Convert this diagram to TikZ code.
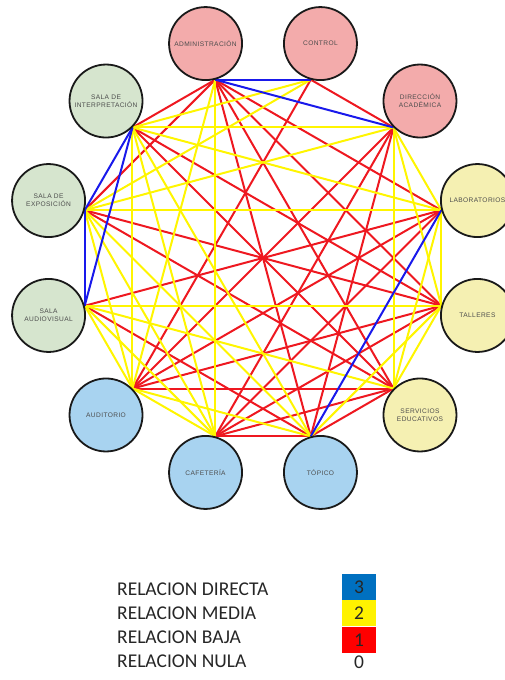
\documentclass[tikz,border=0pt]{standalone}
\usepackage{fontspec}
\setmainfont{Liberation Sans}
\newfontfamily\roomfont[LetterSpace=6]{Liberation Sans}
\newfontfamily\legendfont{Carlito}
\usetikzlibrary{backgrounds}
\definecolor{roompink}{RGB}{243,171,171}
\definecolor{roomgreen}{RGB}{214,229,206}
\definecolor{roomyellow}{RGB}{245,240,178}
\definecolor{roomblue}{RGB}{168,211,240}
\definecolor{relblue}{RGB}{25,25,235}
\definecolor{relyellow}{RGB}{255,245,0}
\definecolor{relred}{RGB}{238,24,32}
\definecolor{keyblue}{RGB}{0,112,192}

\begin{document}
\begin{tikzpicture}[x=1pt,y=1pt,
    room/.style={circle, draw=black!90, line width=1.8pt, minimum size=73pt,
                 inner sep=0pt, align=center, text=black!70,
                 font=\roomfont\fontsize{6.6}{8}\selectfont},
    directa/.style={draw=relblue, line width=2pt},
    media/.style={draw=relyellow, line width=2pt},
    baja/.style={draw=relred, line width=2pt},
    keytext/.style={anchor=west, inner sep=0pt, text=black!85,
                    font=\legendfont\fontsize{19.5}{22}\selectfont},
    keybox/.style={minimum width=34pt, minimum height=26.5pt, inner sep=0pt,
                   text=black!85, font=\legendfont\fontsize{19.5}{22}\selectfont}
  ]
  \useasboundingbox (0,0) rectangle (505,-680);
  \begin{scope}[shift={(263,-258)}]
    \node[room, fill=roompink]   (adm)  at (105:222)  {ADMINISTRACIÓN};
    \node[room, fill=roompink]   (ctl)  at (75:222)   {CONTROL};
    \node[room, fill=roompink]   (dir)  at (45:222)   {DIRECCIÓN\\ACADÉMICA};
    \node[room, fill=roomyellow] (lab)  at (15:222)   {LABORATORIOS};
    \node[room, fill=roomyellow] (tal)  at (-15:222)  {TALLERES};
    \node[room, fill=roomyellow] (ser)  at (-45:222)  {SERVICIOS\\EDUCATIVOS};
    \node[room, fill=roomblue]   (tpc)  at (-75:222)  {TÓPICO};
    \node[room, fill=roomblue]   (caf)  at (-105:222) {CAFETERÍA};
    \node[room, fill=roomblue]   (aud)  at (-135:222) {AUDITORIO};
    \node[room, fill=roomgreen]  (sav)  at (-165:222) {SALA\\AUDIOVISUAL};
    \node[room, fill=roomgreen]  (sex)  at (165:222)  {SALA DE\\EXPOSICIÓN};
    \node[room, fill=roomgreen]  (sint) at (135:222)  {SALA DE\\INTERPRETACIÓN};
  \end{scope}

  \begin{scope}[on background layer]
    % relacion baja
    \foreach \a/\b in {adm.285/lab.195, adm.285/tal.165, adm.285/ser.135, adm.285/tpc.105,
        adm.285/sex.345, adm.285/sint.315, ctl.255/dir.225, ctl.255/aud.45,
        dir.225/tpc.105, dir.225/caf.75, dir.225/aud.45, lab.195/caf.75,
        lab.195/aud.45, lab.195/sav.15, tal.165/caf.75, tal.165/aud.45, tal.165/sex.345,
        tal.165/sint.315, ser.135/tpc.105, ser.135/caf.75, ser.135/aud.45, ser.135/sex.345,
        ser.135/sint.315, tpc.105/caf.75, tpc.105/sav.15}
      \draw[baja] (\a) -- (\b);
    % relacion media
    \foreach \a/\b in {adm.285/caf.75, adm.285/aud.45, ctl.255/sex.345, ctl.255/sint.315,
        dir.225/lab.195, dir.225/tal.165, dir.225/ser.135, dir.225/sex.345, dir.225/sint.315,
        lab.195/tal.165, lab.195/ser.135, lab.195/sex.345, lab.195/sint.315, tal.165/ser.135,
        tal.165/tpc.105, tal.165/sav.15, ser.135/sav.15, tpc.105/aud.45, tpc.105/sex.345,
        tpc.105/sint.315, caf.75/aud.45, caf.75/sav.15, caf.75/sex.345, caf.75/sint.315,
        aud.45/sav.15, aud.45/sex.345, aud.45/sint.315}
      \draw[media] (\a) -- (\b);
    % relacion directa
    \foreach \a/\b in {adm.285/ctl.255, adm.285/dir.225, sint.315/sex.345,
        sint.315/sav.15, sex.345/sav.15, lab.195/tpc.105}
      \draw[directa] (\a) -- (\b);
  \end{scope}

  % leyenda
  \node[keytext] (k3) at (117,-589) {RELACION DIRECTA};
  \node[keytext] (k2) at (117,-613) {RELACION MEDIA};
  \node[keytext] (k1) at (117,-637) {RELACION BAJA};
  \node[keytext] (k0) at (117,-661) {RELACION NULA};
  \node[keybox, fill=keyblue]   (b3) at (359,-587) {3};
  \node[keybox, fill=yellow]    (b2) at (359,-613) {2};
  \node[keybox, fill=red]       (b1) at (359,-640) {1};
  \node[keybox]                 (b0) at (359,-662) {0};
\end{tikzpicture}
\end{document}
